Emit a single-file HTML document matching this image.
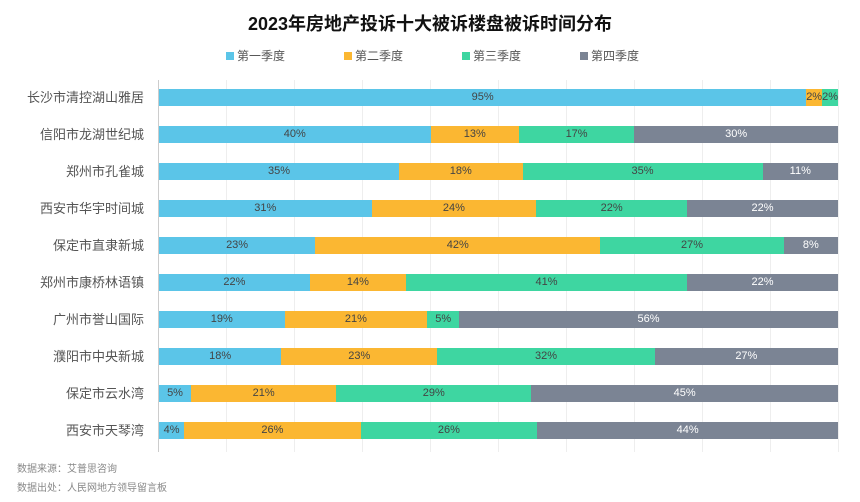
<!DOCTYPE html>
<html><head><meta charset="utf-8"><style>
body{margin:0;background:#fff;font-family:"Liberation Sans","Noto Sans CJK SC",sans-serif;}
#c{position:relative;width:860px;height:502px;overflow:hidden;background:#fff}
.t{position:absolute;left:0;width:860px;top:10px;text-align:center;font-size:18px;font-weight:bold;color:#111}
.lg{position:absolute;top:47px;font-size:12px;color:#555;display:flex;align-items:center}
.lg i{display:inline-block;width:8px;height:8px;margin-right:3px}
.g{position:absolute;top:80px;height:372px;width:1px;background:#eee}
.row{position:absolute;left:159px;width:679px;height:17px;display:flex}
.row div{height:100%;text-align:center;font-size:11px;line-height:17px;color:#444;overflow:visible;white-space:nowrap}
.lab{position:absolute;right:716px;font-size:13px;color:#555;line-height:17px;white-space:nowrap}
.a{background:#5bc5e8}.b{background:#fbb732}.c{background:#3ed6a1}.d{background:#7b8494;color:#fff!important}
.f{position:absolute;left:17px;font-size:10px;color:#888}
</style></head><body><div id="c">
<div class="t">2023年房地产投诉十大被诉楼盘被诉时间分布</div>
<div class="lg" style="left:226px"><i class="a"></i>第一季度</div>
<div class="lg" style="left:344px"><i class="b"></i>第二季度</div>
<div class="lg" style="left:462px"><i class="c"></i>第三季度</div>
<div class="lg" style="left:580px"><i class="d"></i>第四季度</div>
<div class="g" style="left:158px;background:#ccc"></div>
<div class="g" style="left:226px"></div><div class="g" style="left:294px"></div><div class="g" style="left:362px"></div><div class="g" style="left:430px"></div><div class="g" style="left:498px"></div><div class="g" style="left:566px"></div><div class="g" style="left:634px"></div><div class="g" style="left:702px"></div><div class="g" style="left:770px"></div><div class="g" style="left:838px"></div>

<div class="lab" style="top:89px">长沙市清控湖山雅居</div>
<div class="row" style="top:89px"><div class="a" style="flex:95">95%</div><div class="b" style="flex:2">2%</div><div class="c" style="flex:2">2%</div></div>
<div class="lab" style="top:126px">信阳市龙湖世纪城</div>
<div class="row" style="top:126px"><div class="a" style="flex:40">40%</div><div class="b" style="flex:13">13%</div><div class="c" style="flex:17">17%</div><div class="d" style="flex:30">30%</div></div>
<div class="lab" style="top:163px">郑州市孔雀城</div>
<div class="row" style="top:163px"><div class="a" style="flex:35">35%</div><div class="b" style="flex:18">18%</div><div class="c" style="flex:35">35%</div><div class="d" style="flex:11">11%</div></div>
<div class="lab" style="top:200px">西安市华宇时间城</div>
<div class="row" style="top:200px"><div class="a" style="flex:31">31%</div><div class="b" style="flex:24">24%</div><div class="c" style="flex:22">22%</div><div class="d" style="flex:22">22%</div></div>
<div class="lab" style="top:237px">保定市直隶新城</div>
<div class="row" style="top:237px"><div class="a" style="flex:23">23%</div><div class="b" style="flex:42">42%</div><div class="c" style="flex:27">27%</div><div class="d" style="flex:8">8%</div></div>
<div class="lab" style="top:274px">郑州市康桥林语镇</div>
<div class="row" style="top:274px"><div class="a" style="flex:22">22%</div><div class="b" style="flex:14">14%</div><div class="c" style="flex:41">41%</div><div class="d" style="flex:22">22%</div></div>
<div class="lab" style="top:311px">广州市誉山国际</div>
<div class="row" style="top:311px"><div class="a" style="flex:18.5">19%</div><div class="b" style="flex:21">21%</div><div class="c" style="flex:4.7">5%</div><div class="d" style="flex:55.8">56%</div></div>
<div class="lab" style="top:348px">濮阳市中央新城</div>
<div class="row" style="top:348px"><div class="a" style="flex:18">18%</div><div class="b" style="flex:23">23%</div><div class="c" style="flex:32">32%</div><div class="d" style="flex:27">27%</div></div>
<div class="lab" style="top:385px">保定市云水湾</div>
<div class="row" style="top:385px"><div class="a" style="flex:4.7">5%</div><div class="b" style="flex:21.3">21%</div><div class="c" style="flex:28.6">29%</div><div class="d" style="flex:45">45%</div></div>
<div class="lab" style="top:422px">西安市天琴湾</div>
<div class="row" style="top:422px"><div class="a" style="flex:3.7">4%</div><div class="b" style="flex:26">26%</div><div class="c" style="flex:26">26%</div><div class="d" style="flex:44.3">44%</div></div>

<div class="f" style="top:460px">数据来源：艾普思咨询</div>
<div class="f" style="top:479px">数据出处：人民网地方领导留言板</div>
</div></body></html>
